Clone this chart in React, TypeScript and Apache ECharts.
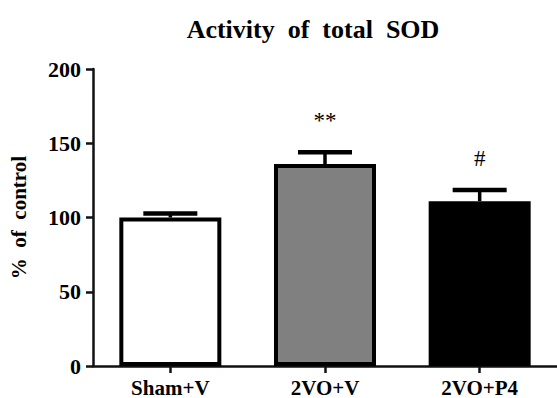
import React, { useEffect, useRef } from "react";
import * as echarts from "echarts";

const categories = ["Sham+V", "2VO+V", "2VO+P4"];
const means = [100, 136, 111];
const errors = [2.7, 8, 7.5];
const fills = ["#ffffff", "#808080", "#000000"];
const marks = ["", "**", "#"];
const yMin = 0;
const yMax = 200;
const yStep = 50;

const SERIF = "Liberation Serif";

export default function App() {
  const ref = useRef<HTMLDivElement>(null);
  useEffect(() => {
    if (!ref.current) return;
    const chart = echarts.init(ref.current, null, { renderer: "svg" });
    chart.setOption({
      animation: false,
      backgroundColor: "#ffffff",
      textStyle: { fontFamily: SERIF },
      graphic: [
        {
          type: "text",
          x: 313,
          y: 29,
          style: {
            text: "Activity  of  total  SOD",
            fontFamily: SERIF,
            fontWeight: "bold",
            fontSize: 26,
            fill: "#000",
            textAlign: "center",
            textVerticalAlign: "middle",
          },
        },
      ],
      grid: { left: 93, right: 0, top: 69, bottom: 32, containLabel: false },
      xAxis: {
        type: "category",
        data: categories,
        axisLine: { show: true, lineStyle: { color: "#111", width: 2.5 } },
        axisTick: { show: true, alignWithLabel: true, length: 7, lineStyle: { color: "#111", width: 2.5 } },
        axisLabel: {
          color: "#000",
          fontFamily: SERIF,
          fontWeight: "bold",
          fontSize: 21,
          margin: 11,
        },
      },
      yAxis: {
        type: "value",
        min: yMin,
        max: yMax,
        interval: yStep,
        name: "%  of  control",
        nameLocation: "middle",
        nameRotate: 90,
        nameGap: 64,
        nameTextStyle: { color: "#000", fontFamily: SERIF, fontWeight: "bold", fontSize: 21 },
        splitLine: { show: false },
        axisLine: { show: true, lineStyle: { color: "#111", width: 2.5 } },
        axisTick: { show: true, length: 7, lineStyle: { color: "#111", width: 2.5 } },
        axisLabel: {
          color: "#000",
          fontFamily: SERIF,
          fontWeight: "bold",
          fontSize: 22,
          margin: 12,
        },
      },
      series: [
        {
          type: "bar",
          barWidth: 102,
          data: means.map((v, i) => ({
            value: v,
            itemStyle: { color: fills[i], borderColor: "#000", borderWidth: 4 },
          })),
          z: 2,
        },
        {
          type: "custom",
          z: 3,
          encode: { x: 0, y: 1 },
          data: categories.map((_, i) => [i, means[i], errors[i]]),
          renderItem: (params: any, api: any) => {
            const i = api.value(0);
            const m = api.value(1);
            const e = api.value(2);
            const base = api.coord([i, m]);
            const top = api.coord([i, m + e]);
            return {
              type: "group",
              children: [
                {
                  type: "line",
                  shape: { x1: base[0], y1: base[1], x2: top[0], y2: top[1] },
                  style: { stroke: "#000", lineWidth: 3.5 },
                },
                {
                  type: "line",
                  shape: { x1: top[0] - 27, y1: top[1], x2: top[0] + 27, y2: top[1] },
                  style: { stroke: "#000", lineWidth: 4.5 },
                },
                {
                  type: "text",
                  x: top[0],
                  y: top[1] - 20,
                  style: {
                    text: marks[i],
                    fontFamily: SERIF,
                    fontSize: 23,
                    fill: "#000",
                    textAlign: "center",
                    textVerticalAlign: "bottom",
                  },
                },
              ],
            };
          },
        },
      ],
    });
    return () => chart.dispose();
  }, []);
  return (
    <div
      ref={ref}
      style={{ position: "fixed", left: 0, top: 0, width: 557, height: 398 }}
    />
  );
}
